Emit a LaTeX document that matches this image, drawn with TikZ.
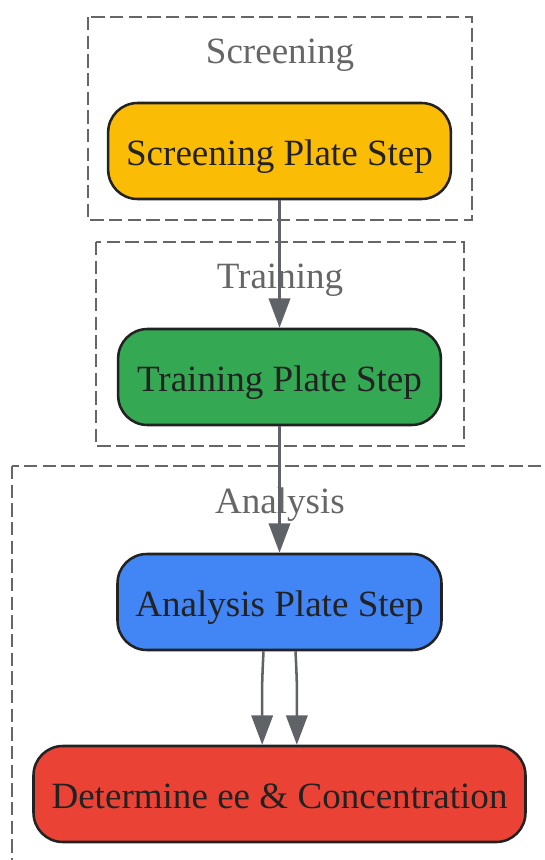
\documentclass[tikz,border=0pt]{standalone}
\usepackage{fontspec}
\setmainfont{Liberation Serif}
\usetikzlibrary{arrows.meta}
\definecolor{cyel}{HTML}{FBBC05}
\definecolor{cgrn}{HTML}{34A853}
\definecolor{cblu}{HTML}{4285F4}
\definecolor{cred}{HTML}{EA4335}
\definecolor{cline}{HTML}{222222}
\definecolor{cclus}{HTML}{666666}
\definecolor{carrow}{HTML}{5F6368}
\begin{document}
\begin{tikzpicture}[x=0.75pt,y=-0.75pt,
  stepbox/.style={draw=cline,line width=1.9pt,rounded corners=22pt,
    minimum height=72pt,inner sep=0pt,text=cline,text height=21pt,text depth=0pt,
    font=\fontsize{27.8}{33}\selectfont},
  cluster/.style={draw=cclus,line width=2.1pt,dash pattern=on 10pt off 4pt},
  clabel/.style={text=cclus,font=\fontsize{27.8}{33}\selectfont,inner sep=0pt,anchor=base},
  conn/.style={draw=carrow,line width=1.9pt,-{Triangle[length=22pt,width=16pt]}}]
\useasboundingbox (0,0) rectangle (545,860);
\clip (0,0) rectangle (545,860);
% clusters
\draw[cluster] (88,17) rectangle (472,220);
\node[clabel] (lscr) at (280,63) {Screening};
\draw[cluster] (96,242) rectangle (464,446);
\node[clabel] (ltrn) at (280,288) {Training};
\draw[cluster] (12,466) rectangle (580,900);
\node[clabel] (lana) at (280,513) {Analysis};
% nodes
\node[stepbox,fill=cyel,minimum width=257pt] (screen) at (279.5,151) {Screening Plate Step};
\node[stepbox,fill=cgrn,minimum width=242pt] (train) at (279.5,377) {Training Plate Step};
\node[stepbox,fill=cblu,minimum width=243pt] (analysis) at (279.5,602) {Analysis Plate Step};
\node[stepbox,fill=cred,minimum width=369pt] (determine) at (279.5,794) {Determine ee \& Concentration};
% connectors
\draw[conn] (screen.south) -- (train.north);
\draw[conn] (train.south) -- (analysis.north);
\draw[conn] ([xshift=-12pt]analysis.south) .. controls ++(-1.5pt,-30pt) and ++(0pt,40pt) .. ([xshift=-13pt]determine.north);
\draw[conn] ([xshift=12pt]analysis.south) .. controls ++(1.5pt,-30pt) and ++(0pt,40pt) .. ([xshift=13pt]determine.north);
\end{tikzpicture}
\end{document}
